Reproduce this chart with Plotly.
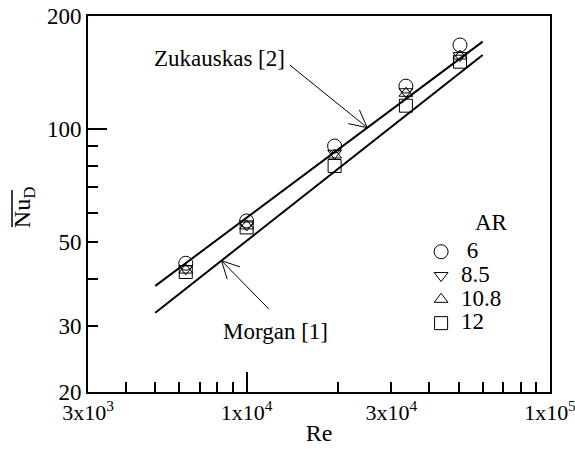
import numpy as np
import plotly.graph_objects as go

FONT = "Liberation Serif"
FS = 23

# Reynolds numbers of the measurement runs
re_points = [6300, 10000, 19500, 33500, 50500]

# Average Nusselt number for each aspect ratio AR
ar_labels = ["6", "8.5", "10.8", "12"]
nu_ar6 = [44.0, 57.0, 90.2, 130.2, 167.5]
nu_ar8_5 = [42.5, 55.6, 86.3, 125.8, 157.0]
nu_ar10_8 = [42.2, 55.3, 85.4, 124.6, 156.5]
nu_ar12 = [41.7, 54.8, 79.8, 115.5, 151.2]

# Correlations from the literature (end points of the straight log-log lines)
re_corr = [5000, 60000]
nu_zukauskas = [38.3, 171.0]
nu_morgan = [32.5, 157.5]

# Axis ticks
x_tickvals = [3e3, 1e4, 3e4, 1e5]
x_ticktext = ["3x10<sup>3</sup>", "1x10<sup>4</sup>", "3x10<sup>4</sup>", "1x10<sup>5</sup>"]
x_minor = [4e3, 5e3, 6e3, 7e3, 8e3, 9e3, 2e4, 4e4, 5e4, 6e4, 7e4, 8e4, 9e4]
y_tickvals = [20, 30, 50, 100, 200]
y_minor = [40, 60, 70, 80, 90]

eps = 1e-4
x_range = [np.log10(3e3) - eps, np.log10(1e5) + eps]
y_range = [np.log10(20) - eps, np.log10(200) + eps]

fig = go.Figure()

# correlation lines
for nu in (nu_zukauskas, nu_morgan):
    fig.add_trace(go.Scatter(x=re_corr, y=nu, mode="lines",
                             line=dict(color="black", width=2),
                             showlegend=False, hoverinfo="skip"))

series = [nu_ar6, nu_ar8_5, nu_ar10_8, nu_ar12]
symbols = ["circle-open", "triangle-down-open", "triangle-up-open", "square-open"]
sizes = [14, 12, 12, 13]
names = ["\u00a06", "8.5", "10.8", "12"]
for nu, sym, sz, nm in zip(series, symbols, sizes, names):
    fig.add_trace(go.Scatter(
        x=re_points, y=nu, mode="markers",
        marker=dict(symbol=sym, size=sz, color="black", line=dict(color="black", width=1)),
        name=f'<span style="font-size:{FS}px">{nm}</span>'))

# empty trace carrying the overlay axes used for the long decade ticks
fig.add_trace(go.Scatter(x=[], y=[], xaxis="x2", yaxis="y2", showlegend=False))

common = dict(type="log", showgrid=False, zeroline=False, ticks="inside", automargin=False,
              tickcolor="black", tickwidth=2, ticklen=10, ticklabeloverflow="allow")

fig.update_layout(
    width=575, height=453,
    margin=dict(l=88, r=25, t=16, b=61),
    paper_bgcolor="white", plot_bgcolor="white",
    font=dict(family=FONT, size=FS, color="black"),
    xaxis=dict(**common, range=x_range, tickvals=x_tickvals, ticktext=x_ticktext,
               tickfont=dict(family=FONT, size=22, color="black"),
               showline=True, mirror=True, linecolor="black", linewidth=2,
               minor=dict(tickvals=x_minor, ticks="inside", ticklen=10, tickwidth=2, tickcolor="black"),
               title=dict(text="Re", font=dict(family=FONT, size=24), standoff=0)),
    yaxis=dict(**common, range=y_range, tickvals=y_tickvals, ticktext=[str(v) for v in y_tickvals],
               tickfont=dict(family=FONT, size=FS, color="black"),
               showline=True, mirror=True, linecolor="black", linewidth=2,
               minor=dict(tickvals=y_minor, ticks="inside", ticklen=10, tickwidth=2, tickcolor="black")),
    xaxis2=dict(type="log", range=x_range, overlaying="x", anchor="y2", side="bottom",
                tickvals=[1e4], ticks="inside", ticklen=20, tickwidth=2, tickcolor="black",
                showticklabels=False, showgrid=False, zeroline=False, showline=False),
    yaxis2=dict(type="log", range=y_range, overlaying="y", anchor="x2", side="left",
                tickvals=[100], ticks="inside", ticklen=19, tickwidth=2, tickcolor="black",
                showticklabels=False, showgrid=False, zeroline=False, showline=False),
    legend=dict(x=0.721, y=0.418, xanchor="left", yanchor="top",
                font=dict(family=FONT, size=16), bgcolor="rgba(0,0,0,0)",
                borderwidth=0),
    showlegend=True,
)

# y-axis title: Nu_D with an overbar
fig.add_annotation(text="Nu<sub>D</sub>", xref="paper", yref="paper", x=-0.1385, y=0.489,
                   xanchor="center", yanchor="middle",
                   textangle=-90, showarrow=False, font=dict(family=FONT, size=24))
fig.add_shape(type="line", xref="paper", yref="paper", x0=-0.1645, x1=-0.1645,
              y0=0.439, y1=0.537, line=dict(color="black", width=1.5))

# legend heading
fig.add_annotation(text="AR", xref="paper", yref="paper", x=0.874, y=0.452,
                   xanchor="center", yanchor="middle",
                   showarrow=False, font=dict(family=FONT, size=FS))


def on_line(re_at, re_pair, nu_pair):
    """Point on a straight log-log line, returned in log10 axis units."""
    lx = np.log10(re_pair)
    ly = np.log10(nu_pair)
    t = (np.log10(re_at) - lx[0]) / (lx[1] - lx[0])
    return np.log10(re_at), ly[0] + t * (ly[1] - ly[0])


def add_pointer(head, tail_dx, tail_dy, wing=20, spread=27):
    """Thin arrow with an open V head at `head` (log axis units)."""
    hx, hy = head
    fig.add_annotation(x=hx, y=hy, ax=tail_dx, ay=tail_dy, text="", showarrow=True,
                       arrowhead=0, arrowwidth=1, arrowcolor="black", standoff=0,
                       font=dict(size=1), borderpad=0)
    ang = np.arctan2(tail_dy, tail_dx)
    for s in (-1, 1):
        a = ang + s * np.radians(spread)
        fig.add_annotation(x=hx, y=hy, ax=wing * np.cos(a), ay=wing * np.sin(a), text="",
                           showarrow=True, arrowhead=0, arrowwidth=1, arrowcolor="black",
                           standoff=0, font=dict(size=1), borderpad=0)


# Zukauskas label and pointer
fig.add_annotation(text="Zukauskas [2]", x=np.log10(8155), y=np.log10(154.6),
                   showarrow=False, font=dict(family=FONT, size=FS))
add_pointer(on_line(25000, re_corr, nu_zukauskas), -78, -63)

# Morgan label and pointer
fig.add_annotation(text="Morgan [1]", x=np.log10(12490), y=np.log10(28.9),
                   showarrow=False, font=dict(family=FONT, size=FS))
add_pointer(on_line(8260, re_corr, nu_morgan), 48, 49)

fig.write_html("out.html")
